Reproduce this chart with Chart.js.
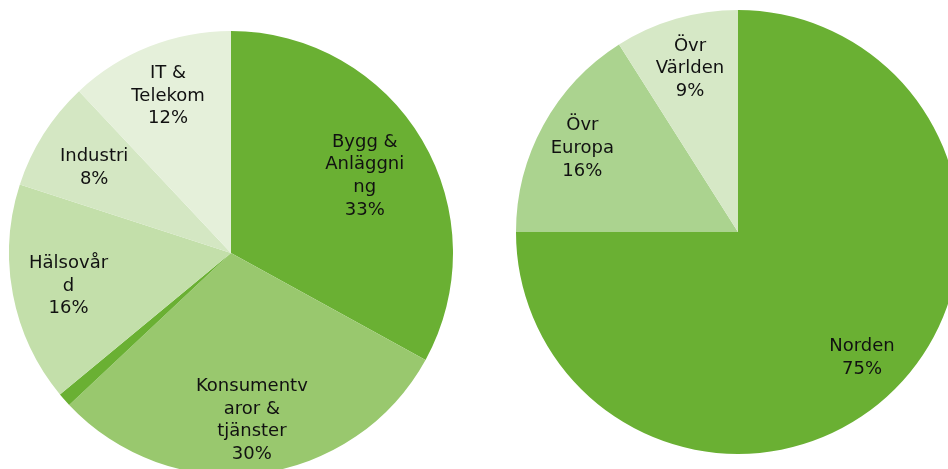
<!DOCTYPE html>
<html lang="sv">
<head>
<meta charset="utf-8">
<script src="https://cdn.jsdelivr.net/npm/chart.js@4"></script>
<style>
    html, body { margin: 0; padding: 0; background: #fff; width: 948px; height: 469px; overflow: hidden; }
    .pie-box { position: absolute; width: 444px; height: 444px; }
    #box-sector { left: 9px; top: 31px; }
    #box-region { left: 516px; top: 10px; }
</style>
</head>
<body>
<div class="pie-box" id="box-sector"><canvas id="sectorChart"></canvas></div>
<div class="pie-box" id="box-region"><canvas id="regionChart"></canvas></div>
<script>
// Fördelning per bransch (vänster)
const sectorNames = ['Bygg & Anläggning', 'Konsumentvaror & tjänster', 'Övrigt', 'Hälsovård', 'Industri', 'IT & Telekom'];
const sectorValues = [33, 30, 1, 16, 8, 12];
const sectorLines = [['Bygg &', 'Anläggni', 'ng'], ['Konsumentv', 'aror &', 'tjänster'], [], ['Hälsovår', 'd'], ['Industri'], ['IT &', 'Telekom']];
const sectorColors = ['#6AB033', '#99C86E', '#6AB033', '#C3DFAA', '#D4E7C3', '#E5F0DA'];

// Fördelning per region (höger)
const regionNames = ['Norden', 'Övr Europa', 'Övr Världen'];
const regionValues = [75, 16, 9];
const regionLines = [['Norden'], ['Övr', 'Europa'], ['Övr', 'Världen']];
const regionColors = ['#6AB033', '#ABD38F', '#D6E8C6'];

// etiketter inne i sektorerna, flera rader
const sliceLabels = {
    id: 'sliceLabels',
    afterDatasetsDraw(chart, args, opts) {
        const ctx = chart.ctx;
        const meta = chart.getDatasetMeta(0);
        const values = chart.data.datasets[0].data;
        ctx.save();
        ctx.font = '18px "DejaVu Sans", Verdana, sans-serif';
        ctx.fillStyle = '#111';
        ctx.textAlign = 'center';
        ctx.textBaseline = 'middle';
        meta.data.forEach((arc, i) => {
            const lines = opts.lines[i];
            if (!lines || lines.length === 0) return;
            const all = lines.concat([values[i] + '%']);
            const p = arc.getProps(['startAngle', 'endAngle', 'x', 'y', 'outerRadius'], true);
            const mid = (p.startAngle + p.endAngle) / 2;
            const r = p.outerRadius * opts.radius[i];
            const cx = p.x + Math.cos(mid) * r;
            const cy = p.y + Math.sin(mid) * r + 2;
            const lh = 22.7;
            const top = cy - (all.length - 1) * lh / 2;
            all.forEach((txt, k) => ctx.fillText(txt, cx, top + k * lh));
        });
        ctx.restore();
    }
};

function makePie(id, names, values, colors, lines, labelRadius) {
    const ctx = document.getElementById(id).getContext('2d');
    return new Chart(ctx, {
        type: 'pie',
        data: {
            labels: names,
            datasets: [{ data: values, backgroundColor: colors, borderWidth: 0 }]
        },
        options: {
            responsive: true, maintainAspectRatio: false, animation: false,
            layout: { padding: 0 },
            plugins: {
                legend: { display: false },
                tooltip: { enabled: false },
                sliceLabels: { lines: lines, radius: labelRadius }
            }
        },
        plugins: [sliceLabels]
    });
}

makePie('sectorChart', sectorNames, sectorValues, sectorColors, sectorLines, [0.70, 0.75, 0, 0.745, 0.73, 0.77]);
makePie('regionChart', regionNames, regionValues, regionColors, regionLines, [0.79, 0.80, 0.775]);
</script>
</body>
</html>
